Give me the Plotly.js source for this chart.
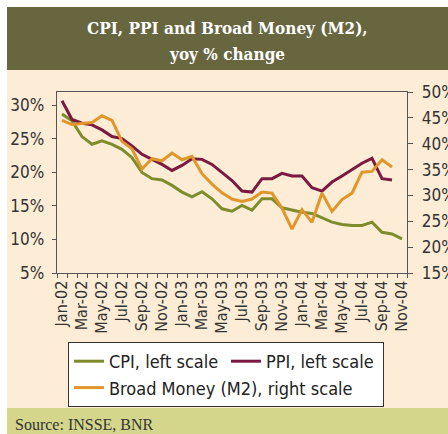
<!DOCTYPE html>
<html><head><meta charset="utf-8">
<script src="https://cdn.plot.ly/plotly-3.0.1.min.js"></script>
<style>html,body{margin:0;padding:0;background:#fff}#chart{width:448px;height:434px}</style>
</head><body><div id="chart"></div>
<script>
const months = ["Jan-02","Feb-02","Mar-02","Apr-02","May-02","Jun-02","Jul-02","Aug-02","Sep-02","Oct-02","Nov-02","Dec-02",
"Jan-03","Feb-03","Mar-03","Apr-03","May-03","Jun-03","Jul-03","Aug-03","Sep-03","Oct-03","Nov-03","Dec-03",
"Jan-04","Feb-04","Mar-04","Apr-04","May-04","Jun-04","Jul-04","Aug-04","Sep-04","Oct-04","Nov-04"];
const cpi = [28.7,27.7,25.35,24.2,24.7,24.2,23.45,22.2,20.0,19.07,18.87,18.07,17.07,16.37,17.12,16.07,14.58,14.22,15.07,14.37,16.07,16.07,14.73,14.37,14.07,13.88,13.23,12.58,12.23,12.08,12.08,12.58,11.08,10.83,10.09];
const ppi = [30.7,27.9,27.35,27.1,26.35,25.35,25.05,23.95,22.7,21.95,21.2,20.3,21.05,22.05,21.95,21.2,20.05,18.8,17.22,17.07,19.07,19.07,19.87,19.47,19.47,17.72,17.22,18.57,19.47,20.47,21.37,22.1,19.07,18.87];
const m2 = [44.5,43.7,43.9,44.1,45.4,44.5,40.45,39.0,35.1,37.1,36.7,38.2,36.9,37.55,34.2,32.2,30.5,29.3,28.85,29.3,30.65,30.45,27.55,23.5,27.25,24.8,30.45,26.9,29.2,30.45,34.5,34.65,36.9,35.5];
const leftTicks = [5,10,15,20,25,30];
const rightTicks = [15,20,25,30,35,40,45,50];
const seriesNames = ["CPI, left scale","PPI, left scale","Broad Money (M2), right scale"];
const titleLines = ["CPI, PPI and Broad Money (M2),","yoy % change"];
const sourceText = "Source: INSSE, BNR";

const W=448,H=434,L=57,R=41,T=92,B=161;
const pw=W-L-R, ph=H-T-B;
const px = v => (v-L)/pw;
const py = v => (H-B-v)/ph;
const sans = 'DejaVu Sans Condensed, sans-serif';
const axisCol = '#555';
const tickLabels = months.map((m,i)=> i%2===0 ? m : '');

const traces = [
 {x: months.slice(0,cpi.length), y: cpi, name: seriesNames[0], type:'scatter', mode:'lines', line:{color:'#7E8C2C', width:3}, yaxis:'y'},
 {x: months.slice(0,ppi.length), y: ppi, name: seriesNames[1], type:'scatter', mode:'lines', line:{color:'#7A1A40', width:3}, yaxis:'y'},
 {x: months.slice(0,m2.length), y: m2, name: seriesNames[2], type:'scatter', mode:'lines', line:{color:'#E1962A', width:3}, yaxis:'y2'}
];

const rect = (x0,y0,x1,y1,color)=>({type:'rect', xref:'paper', yref:'paper', x0:px(x0), x1:px(x1), y0:py(y0), y1:py(y1), fillcolor:color, line:{width:0}, layer:'below'});

const layout = {
 width:W, height:H,
 margin:{l:L, r:R, t:T, b:B, autoexpand:false},
 paper_bgcolor:'#ffffff', plot_bgcolor:'rgba(0,0,0,0)',
 showlegend:true,
 xaxis:{type:'category', range:[-0.5, months.length-0.5], tickmode:'array', tickvals:months, ticktext:tickLabels,
   tickson:'boundaries', ticks:'outside', ticklen:4, tickcolor:axisCol, tickangle:-90,
   showline:true, mirror:true, linecolor:axisCol, linewidth:1.3, showgrid:false, zeroline:false,
   tickfont:{family:sans, size:16, color:'#333'}},
 yaxis:{range:[5,32], tickmode:'array', tickvals:leftTicks, ticktext:leftTicks.map(v=>v+'%'),
   ticks:'outside', ticklen:4, tickcolor:axisCol, showline:true, linecolor:axisCol, linewidth:1.3,
   showgrid:false, zeroline:false, ticklabelstandoff:4, tickfont:{family:sans, size:17, color:'#333'}},
 yaxis3:{overlaying:'y', anchor:'x', range:[5,32], tickmode:'array', tickvals:leftTicks, ticks:'inside', ticklen:4,
   tickcolor:axisCol, showticklabels:false, showline:false, showgrid:false, zeroline:false},
 yaxis2:{overlaying:'y', side:'right', anchor:'x', range:[15,50], tickmode:'array', tickvals:rightTicks, ticktext:rightTicks.map(v=>v+'%'),
   ticks:'outside', ticklen:5, tickcolor:axisCol, showline:true, linecolor:axisCol, linewidth:1.3,
   showgrid:false, zeroline:false, ticklabelstandoff:5, tickfont:{family:sans, size:17, color:'#333'}},
 yaxis4:{overlaying:'y', side:'right', anchor:'x', range:[15,50], tickmode:'array', tickvals:rightTicks, ticks:'inside', ticklen:5,
   tickcolor:axisCol, showticklabels:false, showline:false, showgrid:false, zeroline:false},
 legend:{x:px(68), y:py(342), xanchor:'left', yanchor:'top', orientation:'h', entrywidth:112, entrywidthmode:'pixels',
   font:{family:sans, size:18, color:'#222'}, bgcolor:'#ffffff', bordercolor:'#333', borderwidth:1, traceorder:'normal'},
 shapes:[
   rect(7,70,W,408,'#FDEDD6'),
   rect(7,7,W,70,'#67663F'),
   rect(7,408,W,H,'#D4D78B')
 ],
 annotations:[
   {xref:'paper', yref:'paper', x:px(227), y:py(28), text:'<b>'+titleLines[0]+'</b>', showarrow:false, xanchor:'center', yanchor:'middle',
    font:{family:'DejaVu Serif Condensed, DejaVu Serif, serif', size:17, color:'#ffffff'}},
   {xref:'paper', yref:'paper', x:px(227), y:py(54), text:'<b>'+titleLines[1]+'</b>', showarrow:false, xanchor:'center', yanchor:'middle',
    font:{family:'DejaVu Serif Condensed, DejaVu Serif, serif', size:17, color:'#ffffff'}},
   {xref:'paper', yref:'paper', x:px(13), y:py(424), text:sourceText, showarrow:false, xanchor:'left', yanchor:'middle',
    font:{family:'Liberation Serif, serif', size:16, color:'#333'}}
 ]
};
Plotly.newPlot('chart', traces, layout, {displayModeBar:false, staticPlot:true});
</script></body></html>
